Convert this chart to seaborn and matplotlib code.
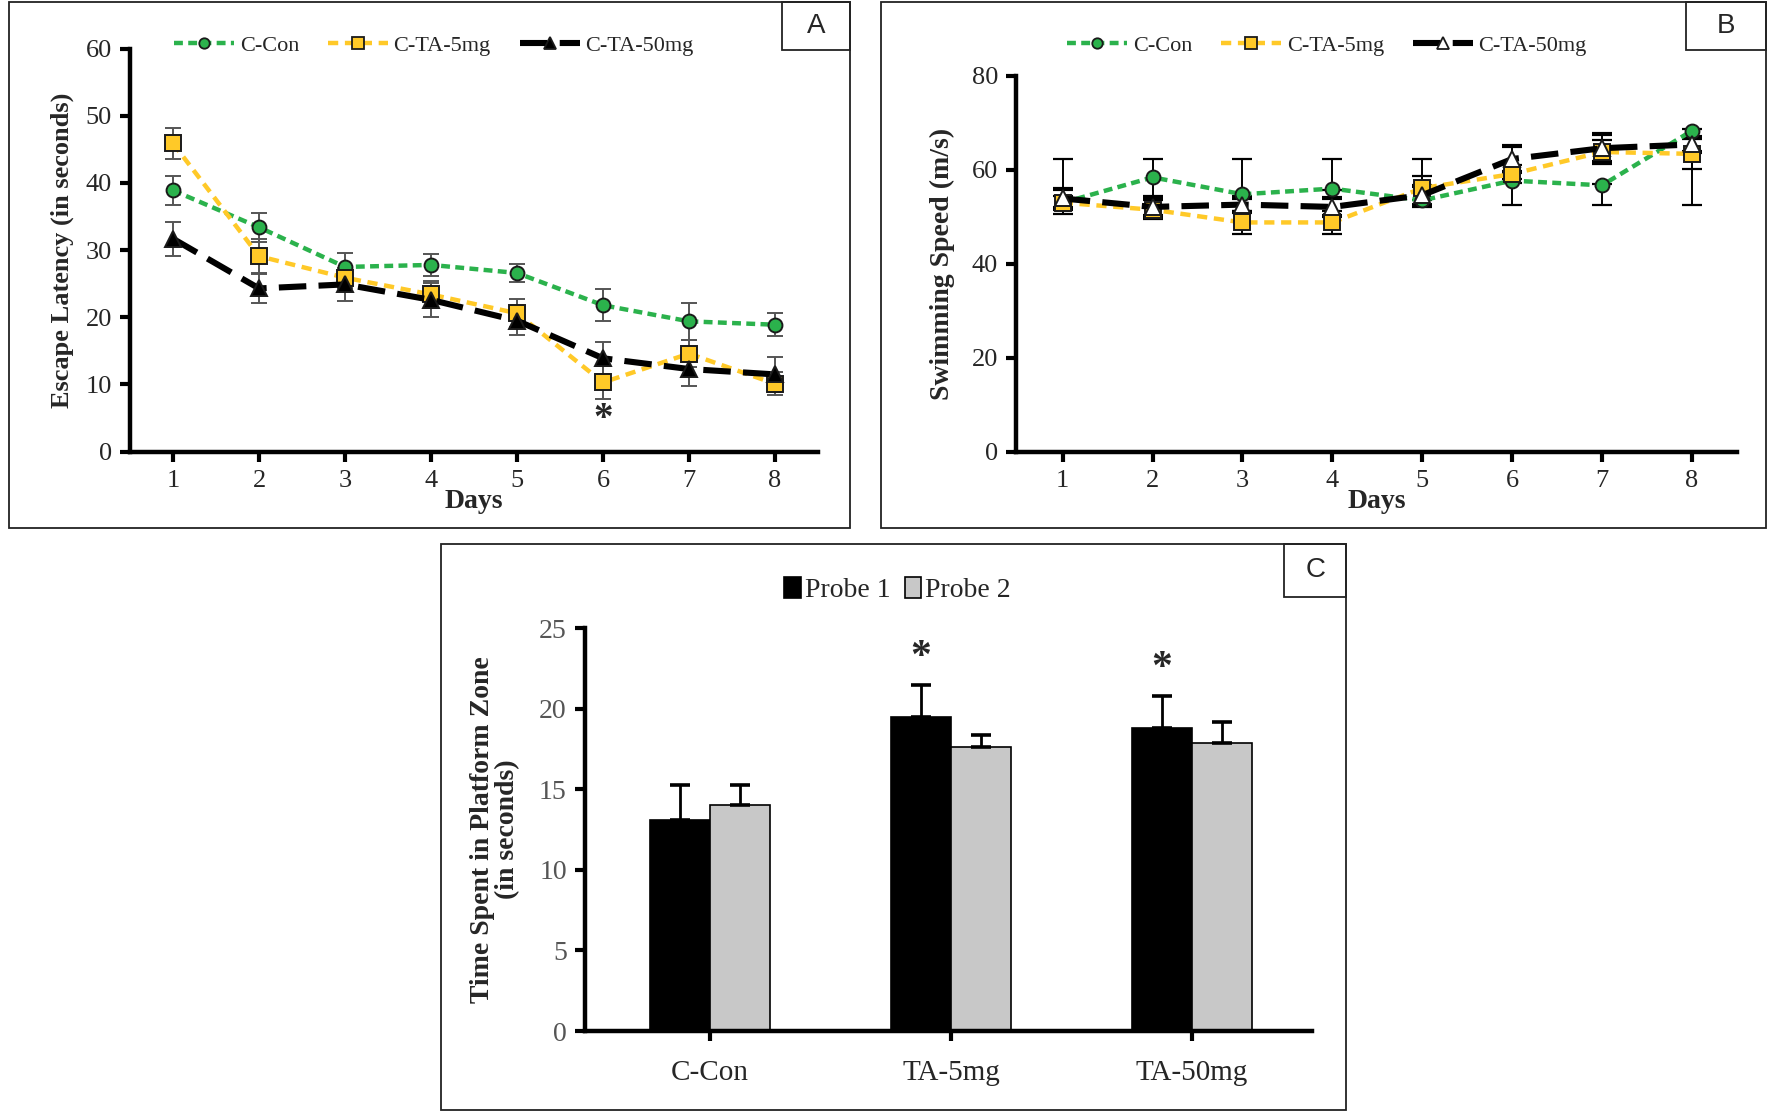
import numpy as np
import pandas as pd
import matplotlib
matplotlib.use('Agg')
import matplotlib.pyplot as plt
from matplotlib.patches import Rectangle
from matplotlib.lines import Line2D
import seaborn as sns

sns.set_theme(style='white')
plt.rcParams['font.family'] = ['Liberation Serif', 'DejaVu Serif']

# ---------------- data ----------------
days = [1, 2, 3, 4, 5, 6, 7, 8]
groups = ['C-Con', 'C-TA-5mg', 'C-TA-50mg']

# panel A: escape latency (s)
lat_con = [38.9, 33.4, 27.5, 27.8, 26.6, 21.8, 19.4, 18.9]
lat_5mg = [45.9, 29.1, 25.9, 23.4, 20.6, 10.3, 14.6, 10.1]
lat_50mg = [31.7, 24.3, 24.9, 22.6, 19.5, 13.9, 12.3, 11.5]
lat_con_err = [2.2, 2.2, 2.1, 1.6, 1.4, 2.4, 2.8, 1.7]
lat_5mg_err = [2.3, 2.5, 1.5, 2.0, 2.1, 2.5, 2.0, 1.7]
lat_50mg_err = [2.5, 2.1, 2.5, 2.5, 2.2, 2.4, 2.5, 2.6]

# panel B: swimming speed (m/s)
spd_con = [53.0, 58.4, 54.8, 56.0, 53.5, 57.7, 56.7, 68.3]
spd_5mg = [53.0, 51.5, 48.8, 48.8, 56.1, 59.1, 63.8, 63.4]
spd_50mg = [53.9, 52.1, 52.6, 52.1, 54.6, 62.3, 64.6, 65.4]
spd_con_lo = [2.5, 4.0, 0.3, 0.3, 1.5, 5.2, 4.2, 15.8]
spd_con_hi = [9.3, 3.9, 7.5, 6.3, 8.8, 0.3, 0.3, 0.3]
spd_5mg_err = [1.5, 2.0, 2.5, 2.5, 2.5, 2.0, 2.5, 3.2]
spd_50mg_err = [2.0, 2.0, 1.5, 2.0, 2.0, 2.8, 3.0, 1.5]

# panel C: probe trials
probe_groups = ['C-Con', 'TA-5mg', 'TA-50mg']
probe1 = [13.1, 19.5, 18.8]
probe2 = [14.0, 17.6, 17.9]
probe1_err = [2.2, 2.0, 2.0]
probe2_err = [1.3, 0.8, 1.3]

green = '#2BB24C'
yellow = '#FFC928'
pal = {'C-Con': green, 'C-TA-5mg': yellow, 'C-TA-50mg': 'black'}
dash = {'C-Con': (2.0, 1.2), 'C-TA-5mg': (2.3, 1.5), 'C-TA-50mg': (4.5, 2.0)}
mk = {'C-Con': 'o', 'C-TA-5mg': 's', 'C-TA-50mg': '^'}
msize = {'C-Con': 10, 'C-TA-5mg': 11.5, 'C-TA-50mg': 11}
lwidth = {'C-Con': 3.2, 'C-TA-5mg': 3.2, 'C-TA-50mg': 4.4}


def long_df(a, b, c, name):
    return pd.DataFrame({'Days': days * 3,
                         name: list(a) + list(b) + list(c),
                         'group': np.repeat(groups, len(days))})


def style_axes(ax, size=19):
    sns.despine(ax=ax)
    for s in ['left', 'bottom']:
        ax.spines[s].set_linewidth(3.2)
        ax.spines[s].set_color('black')
    ax.tick_params(axis='both', which='major', direction='out', length=7, width=3,
                   color='black', labelsize=size, left=True, bottom=True, pad=6)


def draw_lines(ax, df, col, open_tri=False):
    # one seaborn call per series so each keeps its own width / marker size
    for g in groups:
        sub = df[df.group == g]
        fc = 'white' if (open_tri and g == 'C-TA-50mg') else pal[g]
        sns.lineplot(data=sub, x='Days', y=col, color=pal[g], ax=ax, lw=lwidth[g],
                     dashes=dash[g], marker=mk[g], markersize=msize[g], zorder=3,
                     markerfacecolor=fc, markeredgecolor='#1a1a1a',
                     markeredgewidth=1.4, legend=False)


def line_legend(center, open_tri=False):
    hs = []
    for g in groups:
        fc = 'white' if (open_tri and g == 'C-TA-50mg') else pal[g]
        hs.append(Line2D([], [], color=pal[g], lw=lwidth[g], dashes=dash[g],
                         marker=mk[g], markersize=msize[g] - 2.5, markerfacecolor=fc,
                         markeredgecolor='#1a1a1a', markeredgewidth=1.3))
    fig.legend(hs, groups, loc='center', bbox_to_anchor=center, ncol=3, frameon=False,
               fontsize=16, handlelength=2.7, columnspacing=1.3, handletextpad=0.25)


fig = plt.figure(figsize=(17.74, 11.16), dpi=100)

# outer boxes + letter boxes
for (x0, y0, x1, y1), (lx0, ly0), letter in [((0.0051, 0.527, 0.479, 0.998), (0.4407, 0.955), 'A'),
                                           ((0.4968, 0.527, 0.9955, 0.998), (0.9503, 0.955), 'B'),
                                           ((0.2487, 0.0051, 0.759, 0.5122), (0.724, 0.4655), 'C')]:
    fig.patches.append(Rectangle((x0, y0), x1 - x0, y1 - y0, transform=fig.transFigure,
                                 fill=False, lw=1.3, ec='#222222'))
    fig.patches.append(Rectangle((lx0, ly0), x1 - lx0, y1 - ly0, transform=fig.transFigure,
                                 fill=False, lw=1.3, ec='#222222'))
    fig.text((lx0 + x1) / 2, (ly0 + y1) / 2, letter, ha='center', va='center',
             fontsize=20, family='Liberation Sans')

# ---------------- panel A ----------------
axA = fig.add_axes([0.0733, 0.5953, 0.4611 - 0.0733, 0.9564 - 0.5953])
dfA = long_df(lat_con, lat_5mg, lat_50mg, 'lat')
for g, e in zip(groups, [lat_con_err, lat_5mg_err, lat_50mg_err]):
    v = dfA[dfA.group == g]['lat'].values
    axA.errorbar(days, v, yerr=e, fmt='none', ecolor='#555555', elinewidth=1.4,
                 capsize=6, capthick=1.4, zorder=1)
draw_lines(axA, dfA, 'lat')
axA.set_xlim(0.5, 8.5)
axA.set_ylim(0, 60)
axA.set_xticks(days)
axA.set_yticks(range(0, 61, 10))
axA.set_xlabel('Days', fontsize=20, fontweight='bold', labelpad=-2)
axA.set_ylabel('Escape Latency (in seconds)', fontsize=19, fontweight='bold', labelpad=8)
style_axes(axA)
axA.text(6, 4.8, '*', ha='center', va='center', fontsize=28, fontweight='bold')
line_legend((0.2445, 0.959))

# ---------------- panel B ----------------
axB = fig.add_axes([0.5727, 0.5953, 0.979 - 0.5727, 0.932 - 0.5953])
dfB = long_df(spd_con, spd_5mg, spd_50mg, 'spd')
axB.errorbar(days, spd_con, yerr=[spd_con_lo, spd_con_hi], fmt='none', ecolor='black',
             elinewidth=1.4, capsize=7, capthick=1.6, zorder=1)
axB.errorbar(days, spd_5mg, yerr=spd_5mg_err, fmt='none', ecolor='black',
             elinewidth=1.4, capsize=7, capthick=1.6, zorder=1)
axB.errorbar(days, spd_50mg, yerr=spd_50mg_err, fmt='none', ecolor='black',
             elinewidth=1.4, capsize=7, capthick=3, zorder=1)
draw_lines(axB, dfB, 'spd', open_tri=True)
axB.set_xlim(0.48, 8.5)
axB.set_ylim(0, 80)
axB.set_xticks(days)
axB.set_yticks(range(0, 81, 20))
axB.set_xlabel('Days', fontsize=20, fontweight='bold', labelpad=-2)
axB.set_ylabel('Swimming Speed (m/s)', fontsize=20, fontweight='bold', labelpad=12)
style_axes(axB)
line_legend((0.748, 0.959), open_tri=True)

# ---------------- panel C ----------------
axC = fig.add_axes([0.3297, 0.0761, 0.7398 - 0.3297, 0.4371 - 0.0761])
dfC = pd.DataFrame({'group': probe_groups * 2,
                    'time': probe1 + probe2,
                    'probe': ['Probe 1'] * 3 + ['Probe 2'] * 3})
sns.barplot(data=dfC, x='group', y='time', hue='probe', ax=axC, width=0.5,
            palette={'Probe 1': 'black', 'Probe 2': '#C8C8C8'}, edgecolor='black',
            linewidth=1.2, errorbar=None, saturation=1)
for cont, err in zip(axC.containers, [probe1_err, probe2_err]):
    xs = [p.get_x() + p.get_width() / 2 for p in cont]
    hs = [p.get_height() for p in cont]
    axC.errorbar(xs, hs, yerr=[[0] * 3, err], fmt='none', ecolor='black',
                 elinewidth=2, capsize=7, capthick=2.6)
for i in [1, 2]:
    top = probe1[i] + probe1_err[i]
    axC.text(i - 0.125, top + 0.5, '*', ha='center', va='bottom', fontsize=30,
             fontweight='bold')
axC.set_xlim(-0.52, 2.5)
axC.set_ylim(0, 25)
axC.set_yticks(range(0, 26, 5))
axC.set_xlabel('')
axC.set_ylabel('Time Spent in Platform Zone\n(in seconds)', fontsize=20,
               fontweight='bold', labelpad=14, linespacing=1.0)
style_axes(axC, size=20)
axC.tick_params(axis='y', labelcolor='#555555')
axC.tick_params(axis='x', labelsize=21, pad=14)
axC.legend_.remove()
hC, lC = axC.get_legend_handles_labels()
fig.legend(hC, lC, loc='center', bbox_to_anchor=(0.506, 0.4716), ncol=2, frameon=False,
           fontsize=20, handlelength=0.6, handleheight=0.8, columnspacing=0.5,
           handletextpad=0.15)

fig.savefig('out.png', dpi=100)
